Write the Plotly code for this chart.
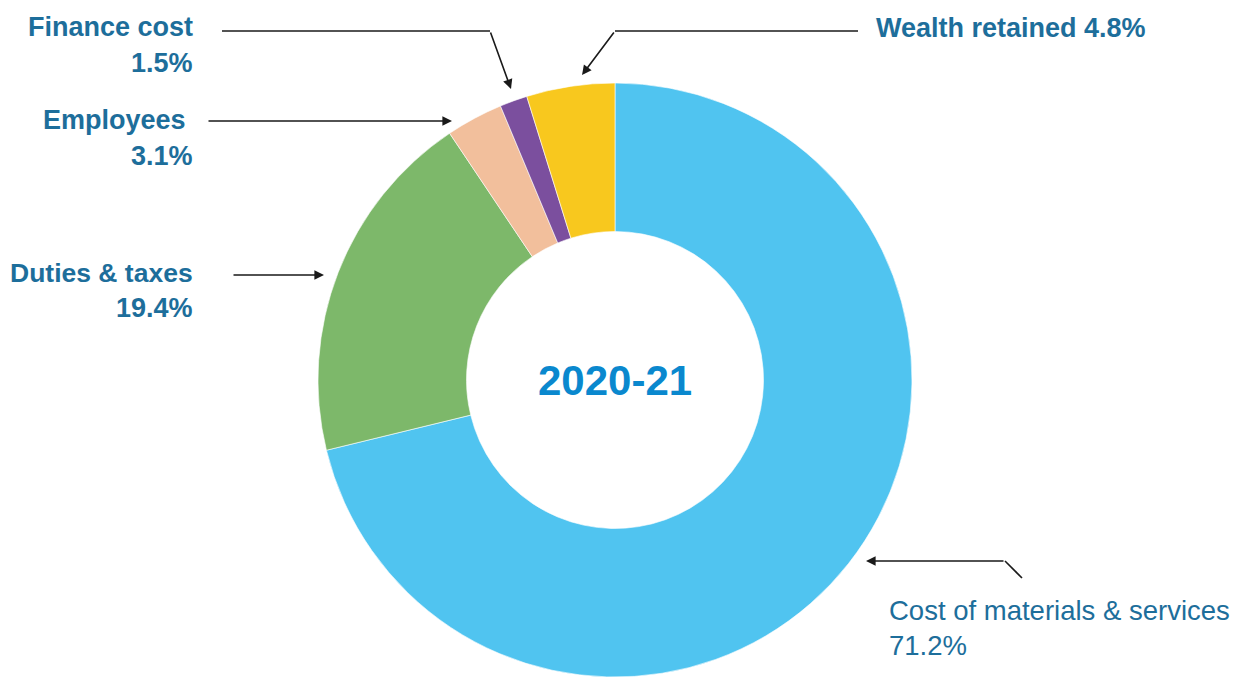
import plotly.graph_objects as go

# wealth distribution 2020-21
labels = ["Cost of materials & services", "Duties & taxes", "Employees", "Finance cost", "Wealth retained"]
shares = [71.2, 19.4, 3.1, 1.5, 4.8]
colours = ["#50C4F0", "#7DB86A", "#F2BF9C", "#7B4F9E", "#F8C81E"]
year = "2020-21"

# page body keeps its default 8px margin, so the plot sits inside it
OFF = 8
W, H = 1247 - 2 * OFF, 685 - 2 * OFF
TXT = "#1D6E9B"


def px(x, y):
    # pixel position on the window -> paper coords
    return (x - OFF) / W, 1 - (y - OFF) / H


x0d, y1d = px(318, 83)
x1d, y0d = px(912, 677)

fig = go.Figure(go.Pie(
    labels=labels, values=shares, sort=False, direction="clockwise", rotation=0,
    hole=0.5, marker=dict(colors=colours, line=dict(color="rgba(255,255,255,0.6)", width=1)),
    textinfo="none", hoverinfo="label+percent", showlegend=False,
    domain=dict(x=[x0d, x1d], y=[max(y0d, 0), y1d]),
))

annots = []


def label(x, y, text, anchor, size=27, weight="bold"):
    xx, yy = px(x, y)
    f = dict(family="Liberation Sans, Arial", size=size, color=TXT)
    if weight == "bold":
        text = "<b>" + text + "</b>"
    annots.append(dict(x=xx, y=yy, xref="paper", yref="paper", text=text, showarrow=False,
                       xanchor=anchor, yanchor="middle", font=f))


def arrow(x0, y0, x1, y1):
    # tail (x0,y0) -> head (x1,y1), pixel coords
    xx, yy = px(x1, y1)
    annots.append(dict(x=xx, y=yy, xref="paper", yref="paper", ax=x0 - x1, ay=y0 - y1,
                       axref="pixel", ayref="pixel", text="", showarrow=True,
                       arrowhead=2, arrowsize=1.2, arrowwidth=1.6, arrowcolor="#1a1a1a"))


shapes = []


def seg(x0, y0, x1, y1):
    a, b = px(x0, y0)
    c, d = px(x1, y1)
    shapes.append(dict(type="line", xref="paper", yref="paper", x0=a, y0=b, x1=c, y1=d,
                       line=dict(color="#1a1a1a", width=1.6)))


# left side labels
label(195, 27, "Finance cost", "right")
label(195, 63, "1.5%", "right")
label(188, 120, "Employees", "right")
label(195, 156, "3.1%", "right")
label(195, 273, "Duties & taxes", "right", size=26.5)
label(195, 308, "19.4%", "right")
# right side labels
label(874, 28, "Wealth retained 4.8%", "left")
label(887, 610, "Cost of materials & services", "left", size=27.5, weight="normal")
label(887, 645, "71.2%", "left", size=27.5, weight="normal")

seg(222, 31, 490, 31)
arrow(490, 31, 511, 89)
arrow(207, 121, 452, 121)
arrow(232, 275, 324, 275)
seg(858, 31, 615, 31)
arrow(615, 31, 582, 75)
seg(1022, 578, 1005, 561)
arrow(1005, 561, 866, 561)

cx, cy = px(615, 380)
annots.append(dict(x=cx, y=cy, xref="paper", yref="paper", text="<b>" + year + "</b>",
                   showarrow=False, font=dict(family="Liberation Sans, Arial", size=42, color="#0A88CE")))

fig.update_layout(
    width=W, height=H,
    annotations=annots, shapes=shapes,
    margin=dict(l=0, r=0, t=0, b=0),
    paper_bgcolor="white", plot_bgcolor="white",
)
fig.write_html("out.html")
